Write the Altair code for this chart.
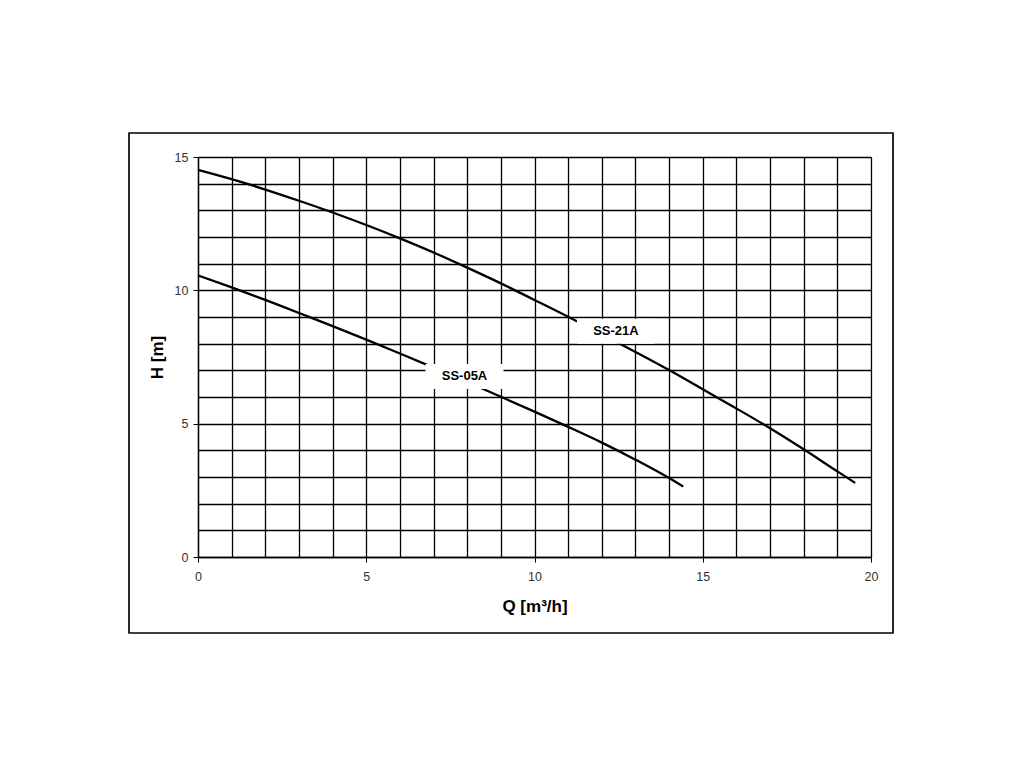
import altair as alt
import pandas as pd

# SS-21A curve
q21 = [0, 1, 2, 3, 4, 5, 6, 7, 8, 9, 10, 11, 12, 13, 14, 15, 16, 17, 18, 19, 19.53]
h21 = [14.52, 14.17, 13.78, 13.36, 12.92, 12.45, 11.95, 11.42, 10.85, 10.26, 9.64, 9.01,
       8.35, 7.69, 7.01, 6.29, 5.57, 4.83, 4.04, 3.21, 2.78]
# SS-05A curve
q05 = [0, 1, 2, 3, 4, 5, 6, 7, 8, 9, 10, 11, 12, 13, 14, 14.42]
h05 = [10.56, 10.11, 9.64, 9.15, 8.66, 8.15, 7.63, 7.10, 6.56, 6.01, 5.45, 4.88,
       4.29, 3.65, 2.96, 2.64]

label_names = ["SS-21A", "SS-05A"]
label_q = [12.42, 7.92]
label_h = [8.47, 6.77]

x_ticks = list(range(0, 21))
y_ticks = list(range(0, 16))

curves = pd.concat([
    pd.DataFrame({"Q": q21, "H": h21, "pump": "SS-21A"}),
    pd.DataFrame({"Q": q05, "H": h05, "pump": "SS-05A"}),
])
labels = pd.DataFrame({"Q": label_q, "H": label_h, "name": label_names})

FONT = "Liberation Sans"

xscale = alt.Scale(domain=[0, 20], nice=False, zero=False)
yscale = alt.Scale(domain=[0, 15], nice=False, zero=False)

common = dict(
    grid=True, gridColor="black", gridWidth=1.3, gridOpacity=1,
    format="d",
    labelExpr="datum.value % 5 === 0 ? datum.label : ''",
    labelOverlap=False, labelFlush=False, tickCount=40,
    tickOpacity={"condition": {"test": "datum.value % 5 === 0", "value": 1}, "value": 0},
    tickColor="black", tickSize=5, tickWidth=1,
    domainColor="black", domainWidth=1.3,
    labelFont=FONT, labelFontSize=12.5, labelColor="#333333",
    titleFont=FONT, titleFontSize=17, titleFontWeight="bold", titleColor="black",
)

xaxis = alt.Axis(values=x_ticks, labelPadding=8, title="Q [m³/h]", titlePadding=16, **common)
yaxis = alt.Axis(values=y_ticks, labelPadding=5, title="H [m]", titlePadding=8, **common)

lines = alt.Chart(curves).mark_line(color="black", strokeWidth=2.3, interpolate="monotone").encode(
    x=alt.X("Q:Q", scale=xscale, axis=xaxis),
    y=alt.Y("H:Q", scale=yscale, axis=yaxis),
    detail="pump:N",
)

boxes = alt.Chart(labels).mark_rect(color="white", width=78, height=25, opacity=1).encode(
    x=alt.X("Q:Q", scale=xscale),
    y=alt.Y("H:Q", scale=yscale),
)

texts = alt.Chart(labels).mark_text(font=FONT, fontSize=13, fontWeight="bold", color="black").encode(
    x=alt.X("Q:Q", scale=xscale),
    y=alt.Y("H:Q", scale=yscale),
    text="name:N",
)

frame = alt.Chart(labels).mark_rect(fill=None, stroke="black", strokeWidth=1.2, filled=False).encode(
    x=alt.value(-69), x2=alt.value(695), y=alt.value(-24), y2=alt.value(476),
)

chart = alt.layer(lines, boxes, texts, frame).properties(
    width=673, height=400,
    autosize=alt.AutoSizeParams(type="none"),
    padding={"left": 190, "top": 149, "right": 30, "bottom": 100},
).configure_view(stroke="black", strokeWidth=1.3).configure(background="white")

chart.save("out.html", embed_options={"renderer": "svg", "actions": False})
